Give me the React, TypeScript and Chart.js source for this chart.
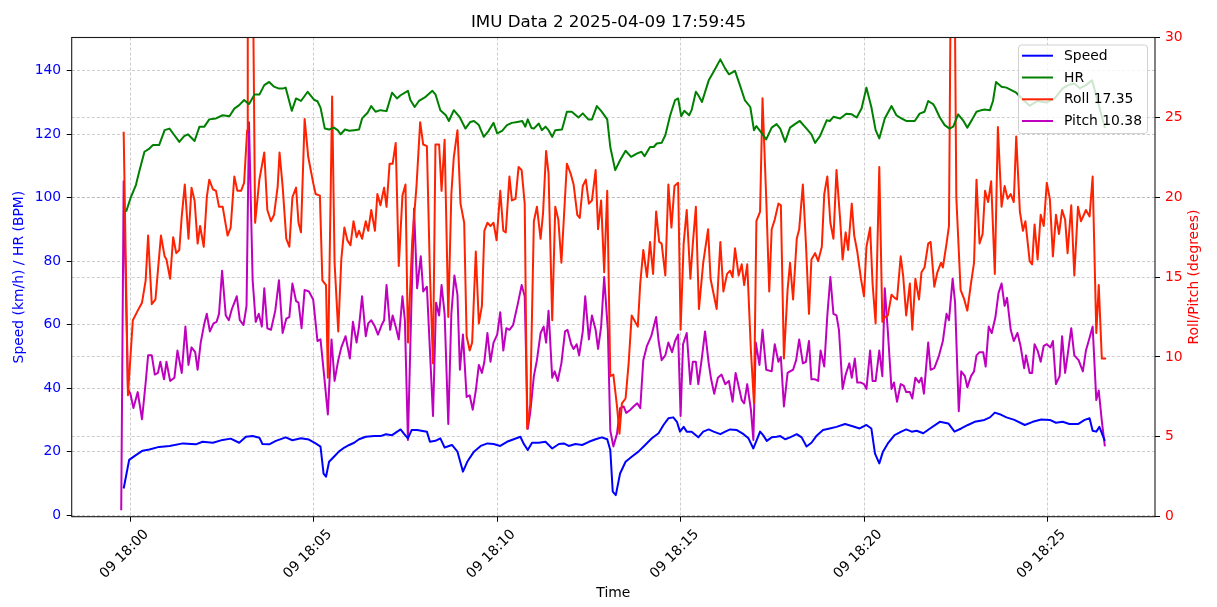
import React, { useEffect, useRef } from "react";
import { Chart, registerables } from "chart.js";

Chart.register(...registerables);

// ---- Data (time in seconds relative to 18:00:00 on 2025-04-09) ----
const TITLE = "IMU Data 2 2025-04-09 17:59:45";

const SPEED_T = [-11, -2, 9, 20, 31, 47, 64, 86, 107, 118, 135, 151, 164, 178, 189, 200, 211, 216, 227, 238, 254, 265, 279, 292, 303, 311, 316, 320, 325, 333, 341, 350, 358, 366, 374, 385, 399, 409, 418, 428, 442, 448, 454, 460, 469, 485, 490, 499, 507, 514, 526, 535, 544, 551, 562, 573, 584, 594, 605, 616, 627, 638, 643, 650, 657, 668, 679, 690, 701, 709, 717, 728, 739, 750, 761, 771, 780, 785, 789, 794, 801, 810, 820, 831, 842, 853, 864, 872, 880, 888, 894, 899, 905, 910, 918, 929, 937, 946, 954, 965, 973, 981, 992, 1003, 1011, 1019, 1024, 1030, 1035, 1041, 1049, 1057, 1063, 1071, 1079, 1090, 1098, 1106, 1114, 1122, 1133, 1144, 1155, 1169, 1180, 1193, 1204, 1212, 1218, 1225, 1231, 1239, 1250, 1261, 1269, 1278, 1286, 1297, 1308, 1324, 1338, 1348, 1359, 1370, 1381, 1397, 1406, 1414, 1422, 1433, 1446, 1463, 1476, 1490, 1504, 1514, 1525, 1536, 1550, 1561, 1569, 1574, 1580, 1585, 1594];
const SPEED_V = [8.4, 17.4, 18.9, 20.3, 20.7, 21.5, 21.8, 22.6, 22.3, 23.1, 22.8, 23.7, 24.1, 22.8, 24.7, 24.9, 24.4, 22.4, 22.3, 23.4, 24.5, 23.6, 24.2, 23.8, 22.6, 21.6, 13.1, 12.1, 16.8, 18.4, 20.0, 21.3, 22.1, 22.8, 23.9, 24.7, 24.9, 24.9, 25.5, 25.2, 27.0, 25.5, 24.2, 26.8, 26.8, 26.3, 23.1, 23.4, 24.2, 21.3, 22.1, 20.0, 13.7, 16.8, 20.0, 21.8, 22.6, 22.4, 21.8, 23.1, 23.9, 24.7, 22.6, 20.5, 22.8, 22.8, 23.1, 21.0, 22.4, 22.6, 21.8, 22.4, 22.1, 23.1, 23.9, 24.5, 23.9, 20.5, 7.4, 6.3, 13.1, 16.8, 18.4, 20.0, 22.1, 24.2, 25.8, 28.4, 30.5, 30.8, 29.4, 26.3, 27.8, 26.3, 26.3, 24.5, 26.3, 27.0, 26.3, 25.5, 26.3, 27.0, 26.8, 25.5, 24.2, 21.0, 23.4, 26.3, 25.2, 23.4, 24.5, 24.7, 24.9, 23.9, 24.5, 25.5, 24.5, 21.6, 22.8, 24.9, 26.8, 27.3, 27.8, 28.7, 28.1, 27.3, 28.4, 27.3, 19.4, 16.3, 20.0, 22.6, 25.2, 26.3, 27.0, 26.3, 26.6, 25.8, 27.3, 29.4, 28.9, 26.3, 27.3, 28.4, 29.4, 30.0, 30.8, 32.3, 31.8, 30.8, 30.0, 28.4, 29.4, 30.1, 30.0, 29.1, 29.4, 28.7, 28.7, 30.0, 30.5, 26.6, 26.3, 27.8, 23.4];

const HR_T = [-7, 1, 9, 15, 23, 31, 37, 47, 56, 64, 72, 80, 88, 94, 105, 113, 121, 129, 140, 151, 162, 170, 178, 186, 194, 203, 211, 219, 227, 235, 243, 249, 254, 264, 271, 279, 290, 301, 306, 311, 318, 325, 333, 339, 344, 351, 358, 366, 374, 379, 388, 394, 401, 409, 419, 428, 436, 442, 454, 458, 465, 472, 483, 494, 499, 507, 516, 521, 529, 539, 548, 556, 562, 570, 578, 586, 594, 600, 608, 616, 624, 633, 641, 646, 650, 656, 660, 668, 673, 679, 684, 690, 695, 706, 714, 722, 733, 740, 749, 755, 763, 770, 780, 785, 793, 801, 810, 819, 829, 836, 841, 850, 856, 861, 869, 875, 883, 891, 896, 901, 906, 914, 918, 925, 929, 935, 946, 954, 965, 973, 979, 989, 997, 1005, 1014, 1020, 1024, 1033, 1040, 1049, 1057, 1063, 1071, 1079, 1087, 1095, 1106, 1114, 1120, 1128, 1139, 1144, 1150, 1161, 1171, 1180, 1188, 1196, 1204, 1212, 1219, 1225, 1234, 1245, 1253, 1261, 1269, 1283, 1291, 1299, 1305, 1313, 1316, 1324, 1332, 1340, 1346, 1354, 1362, 1369, 1377, 1384, 1392, 1397, 1406, 1411, 1416, 1425, 1433, 1441, 1449, 1457, 1471, 1484, 1498, 1512, 1525, 1534, 1544, 1553, 1563, 1573, 1583, 1594];
const HR_V = [95.6, 100.3, 104, 108.7, 114.5, 115.5, 116.6, 116.6, 121.3, 121.8, 119.7, 117.6, 119.4, 120, 117.9, 122.4, 122.4, 124.7, 125, 126, 125.7, 128.1, 129.2, 130.8, 129.5, 132.5, 132.5, 135.5, 136.5, 135, 134.4, 134.4, 134.7, 127.4, 131.3, 130.5, 133.4, 130.8, 130.4, 128.4, 121.8, 121.5, 122.1, 121.3, 120.0, 121.5, 121.1, 121.3, 121.5, 125, 126.8, 128.9, 127.1, 127.6, 127.3, 133.1, 131.3, 132.3, 133.7, 130.8, 128.6, 130.5, 131.8, 133.7, 132.6, 127.6, 126, 124.2, 127.6, 125.3, 121.8, 123.9, 124.2, 122.9, 119.2, 121.1, 123.6, 120.3, 121.1, 122.9, 123.6, 123.9, 124.2, 122.4, 124.7, 122.0, 121.8, 123.4, 121.3, 122.4, 121.3, 119.2, 121.3, 121.5, 127.1, 127.1, 125.3, 126.6, 124.7, 124.7, 128.9, 127.4, 124.7, 116.0, 108.7, 111.8, 114.8, 112.9, 114.0, 114.5, 113.1, 116.0, 116.0, 117.1, 117.3, 119.7, 126.0, 130.8, 131.3, 125.7, 127.4, 126.0, 127.6, 133.4, 132.3, 130.2, 137.0, 139.7, 143.6, 140.7, 138.9, 140.0, 135.5, 130.8, 128.6, 121.3, 122.6, 120.3, 118.4, 122.1, 123.2, 121.8, 117.6, 122.1, 123.2, 124.2, 121.8, 120.0, 117.3, 119.4, 124.4, 124.2, 125.5, 125, 126.5, 126.3, 125.3, 128.1, 134.7, 128.6, 121.3, 118.7, 125, 128.9, 126.0, 125, 124.2, 124.2, 126.5, 127.1, 130.5, 129.5, 128.6, 125.3, 122.9, 121.8, 122.4, 126.3, 124.4, 122.1, 124.7, 127.1, 127.6, 127.8, 127.6, 130.5, 136.5, 135.0, 134.7, 133.9, 133.1, 131.5, 129, 130.5, 130, 131.3, 134.5, 135.5, 136, 134.5, 135.5, 137, 130, 122];

const ROLL_T = [-11, -4, 4, 12, 19, 25, 29, 35, 41, 45, 50, 56, 59, 65, 70, 75, 80, 84, 89, 95, 100, 105, 110, 114, 120, 125, 129, 135, 140, 145, 151, 159, 164, 170, 175, 181, 186, 191, 192, 199, 204, 211, 219, 224, 230, 235, 241, 244, 249, 255, 260, 265, 271, 275, 279, 285, 291, 299, 303, 310, 314, 320, 323, 330, 334, 340, 345, 350, 355, 360, 365, 370, 374, 379, 385, 389, 394, 400, 404, 409, 415, 419, 424, 429, 434, 439, 445, 450, 454, 461, 468, 474, 479, 485, 490, 495, 499, 505, 509, 514, 520, 525, 529, 535, 540, 546, 550, 555, 559, 565, 570, 575, 579, 584, 589, 594, 599, 605, 610, 614, 620, 624, 630, 635, 640, 645, 649, 654, 660, 665, 671, 675, 680, 684, 690, 695, 700, 705, 714, 720, 725, 731, 735, 740, 745, 750, 755, 761, 765, 770, 775, 780, 785, 790, 796, 800, 804, 810, 815, 820, 830, 834, 839, 845, 850, 855, 860, 865, 869, 875, 880, 885, 890, 896, 900, 905, 910, 916, 920, 925, 930, 937, 945, 949, 959, 965, 970, 976, 981, 985, 989, 995, 1000, 1004, 1009, 1015, 1020, 1024, 1030, 1034, 1040, 1045, 1049, 1054, 1060, 1064, 1069, 1075, 1079, 1084, 1090, 1094, 1100, 1105, 1110, 1114, 1120, 1125, 1131, 1135, 1140, 1145, 1150, 1155, 1161, 1165, 1170, 1174, 1180, 1184, 1189, 1195, 1200, 1204, 1210, 1214, 1219, 1225, 1230, 1234, 1239, 1245, 1250, 1254, 1260, 1264, 1269, 1275, 1279, 1284, 1290, 1294, 1299, 1305, 1309, 1315, 1320, 1326, 1329, 1335, 1339, 1345, 1351, 1358, 1364, 1369, 1375, 1380, 1384, 1389, 1394, 1398, 1403, 1408, 1414, 1419, 1425, 1430, 1435, 1440, 1445, 1449, 1455, 1460, 1464, 1471, 1475, 1479, 1484, 1489, 1494, 1499, 1504, 1509, 1514, 1519, 1524, 1529, 1533, 1539, 1544, 1550, 1555, 1563, 1569, 1574, 1580, 1584, 1589, 1596];
const ROLL_V = [24.1, 7.6, 12.3, 12.9, 13.4, 14.8, 17.6, 13.3, 13.6, 15.4, 17.6, 16.3, 16.1, 14.9, 17.5, 16.5, 16.7, 18.8, 20.8, 17.4, 20.6, 19.8, 17.1, 18.2, 16.9, 20.0, 21.1, 20.5, 20.4, 19.4, 19.4, 17.6, 18.1, 21.3, 20.4, 20.4, 20.9, 24.2, 45, 40, 18.4, 21.1, 22.8, 19.2, 18.5, 18.9, 20.7, 22.8, 20.7, 17.4, 16.9, 20.0, 20.6, 18.4, 17.8, 24.9, 22.5, 20.9, 20.2, 20.1, 14.8, 14.5, 8.7, 26.3, 15.9, 11.6, 16.1, 18.1, 17.3, 17.0, 18.5, 17.5, 17.9, 17.4, 18.5, 17.9, 19.2, 17.9, 20.2, 19.5, 20.6, 19.4, 22.1, 22.1, 23.4, 15.7, 20.1, 20.8, 10.9, 17.3, 20.7, 24.7, 23.3, 23.2, 15.2, 9.6, 23.3, 23.3, 20.4, 23.6, 12.5, 20.2, 22.5, 24.2, 19.6, 18.4, 11.3, 10.4, 10.9, 16.6, 12.1, 13.2, 17.9, 18.4, 18.2, 18.4, 17.3, 20.4, 17.9, 17.8, 21.3, 19.8, 19.9, 21.9, 21.7, 19.6, 5.5, 7.0, 18.5, 19.4, 17.4, 19.0, 22.9, 21.5, 12.3, 19.4, 18.6, 15.9, 22.1, 21.5, 20.8, 18.9, 18.7, 20.7, 21.1, 19.6, 19.8, 21.7, 18.0, 19.8, 15.3, 20.4, 8.8, 8.9, 6.9, 5.2, 7.1, 7.4, 9.6, 12.6, 11.9, 14.6, 16.7, 15.0, 17.2, 15.2, 19.1, 17.2, 17.1, 15.1, 20.8, 18.1, 20.7, 20.9, 11.7, 17.1, 19.2, 14.9, 17.1, 19.4, 13.0, 15.9, 18.0, 14.9, 13.0, 17.2, 14.1, 15.2, 15.4, 15.0, 16.8, 15.1, 15.8, 14.5, 15.8, 10.4, 7.1, 18.5, 19.1, 26.2, 20.0, 14.1, 18.0, 18.6, 19.6, 19.5, 9.9, 14.2, 15.9, 13.6, 17.4, 18.0, 20.8, 17.1, 12.7, 16.1, 16.5, 16.0, 16.9, 20.2, 21.3, 18.4, 17.4, 21.7, 18.6, 16.1, 17.8, 16.7, 19.6, 17.6, 16.6, 14.9, 13.8, 16.9, 18.1, 14.6, 12.1, 21.9, 12.2, 12.5, 12.6, 13.9, 13.7, 13.6, 16.3, 15.1, 12.6, 14.6, 11.7, 14.9, 13.6, 15.3, 15.6, 17.1, 17.2, 14.4, 15.3, 15.9, 15.6, 17.1, 18.2, 50, 20.0, 14.2, 13.6, 12.9, 14.6, 15.9, 21.1, 17.1, 17.7, 20.4, 19.7, 21.0, 15.2, 24.4, 19.4, 20.7, 19.9, 20.2, 19.7, 23.8, 19.1, 17.9, 18.5, 16.0, 15.8, 18.3, 16.1, 18.9, 18.2, 20.9, 19.9, 16.3, 18.9, 17.7, 19.2, 18.6, 16.5, 19.5, 15.1, 19.4, 18.5, 19.2, 18.8, 21.3, 11.5, 14.5, 9.9, 9.9];

const PITCH_T = [-15, -11, -4, 0, 5, 12, 19, 25, 29, 35, 40, 45, 49, 55, 59, 65, 72, 77, 84, 90, 95, 100, 106, 110, 115, 121, 125, 130, 136, 141, 145, 150, 156, 161, 166, 174, 179, 185, 190, 194, 200, 205, 210, 215, 219, 224, 230, 237, 243, 249, 255, 260, 265, 271, 275, 280, 285, 292, 299, 306, 311, 317, 323, 329, 334, 340, 345, 352, 359, 364, 370, 374, 379, 385, 389, 394, 400, 405, 411, 415, 419, 425, 429, 434, 439, 445, 449, 454, 460, 464, 469, 475, 479, 485, 490, 495, 500, 505, 509, 514, 520, 525, 530, 535, 539, 544, 550, 555, 560, 565, 570, 575, 579, 584, 589, 594, 600, 605, 610, 615, 620, 626, 633, 640, 645, 650, 654, 660, 665, 671, 676, 680, 684, 690, 694, 699, 705, 711, 715, 721, 725, 730, 734, 740, 744, 750, 755, 761, 765, 770, 775, 781, 785, 790, 796, 801, 807, 811, 818, 823, 829, 834, 839, 845, 852, 860, 864, 869, 875, 880, 886, 891, 896, 900, 904, 910, 916, 920, 925, 929, 935, 940, 946, 950, 955, 961, 967, 973, 979, 985, 990, 996, 1000, 1004, 1009, 1015, 1019, 1023, 1029, 1034, 1040, 1049, 1054, 1060, 1064, 1069, 1075, 1079, 1084, 1089, 1094, 1100, 1105, 1110, 1114, 1120, 1125, 1129, 1135, 1140, 1145, 1150, 1155, 1159, 1165, 1170, 1176, 1180, 1185, 1189, 1195, 1200, 1204, 1210, 1214, 1219, 1225, 1230, 1234, 1239, 1245, 1249, 1254, 1260, 1265, 1269, 1275, 1279, 1284, 1290, 1294, 1298, 1305, 1309, 1315, 1322, 1329, 1335, 1339, 1345, 1349, 1355, 1359, 1365, 1369, 1375, 1380, 1384, 1389, 1395, 1399, 1404, 1409, 1415, 1420, 1425, 1430, 1434, 1440, 1445, 1451, 1456, 1462, 1465, 1471, 1475, 1479, 1484, 1489, 1494, 1499, 1505, 1509, 1514, 1520, 1524, 1529, 1533, 1539, 1544, 1551, 1558, 1563, 1569, 1574, 1580, 1584, 1589, 1594];
const PITCH_V = [0.4, 21.0, 8.0, 7.7, 6.8, 7.8, 6.1, 8.4, 10.1, 10.1, 8.9, 9.0, 9.7, 8.6, 9.7, 8.5, 8.7, 10.4, 9.0, 11.9, 9.5, 10.6, 10.3, 9.2, 10.9, 12.1, 12.7, 11.6, 12.1, 12.2, 12.7, 15.4, 12.6, 12.3, 13.0, 13.8, 12.3, 12.0, 13.2, 24.7, 14.8, 12.2, 12.7, 11.9, 14.3, 11.8, 11.7, 12.9, 14.8, 11.5, 12.4, 12.5, 14.6, 13.5, 13.4, 11.8, 14.2, 14.1, 13.6, 11.0, 11.1, 8.8, 6.4, 11.1, 8.5, 9.8, 10.6, 11.3, 9.9, 12.2, 10.9, 11.9, 13.8, 11.3, 12.1, 12.3, 11.9, 11.4, 12.0, 12.3, 14.5, 11.7, 12.6, 11.9, 11.1, 13.8, 12.3, 4.8, 13.8, 19.3, 14.3, 16.3, 14.1, 14.4, 10.4, 6.3, 13.4, 12.6, 14.5, 12.7, 5.8, 12.7, 15.1, 13.9, 9.2, 11.4, 7.5, 7.6, 6.7, 7.9, 9.5, 9.0, 9.7, 11.5, 9.7, 10.9, 11.4, 12.8, 10.4, 11.8, 11.7, 12.0, 13.2, 14.5, 13.8, 5.5, 6.5, 8.8, 9.8, 11.5, 11.9, 10.9, 12.9, 8.7, 9.1, 8.5, 9.6, 11.6, 11.7, 10.8, 10.5, 10.8, 10.1, 11.6, 13.8, 11.1, 12.6, 11.7, 10.5, 11.9, 15.0, 11.7, 5.4, 4.4, 5.2, 6.8, 6.9, 6.5, 6.7, 6.9, 7.1, 6.8, 9.8, 10.7, 11.3, 12.5, 11.0, 9.8, 10.1, 10.9, 10.3, 11.0, 11.4, 6.3, 10.8, 11.5, 8.3, 9.7, 9.7, 8.3, 10.0, 11.6, 9.6, 8.6, 7.7, 8.7, 8.9, 8.3, 8.5, 7.2, 9.0, 8.0, 7.3, 7.1, 8.3, 6.7, 4.8, 10.9, 9.5, 11.7, 9.2, 9.1, 10.8, 9.7, 10.0, 6.9, 9.0, 9.1, 9.2, 9.8, 11.1, 9.6, 9.7, 11.0, 8.6, 8.6, 8.5, 10.4, 9.4, 12.6, 15.0, 12.7, 12.6, 11.7, 8.0, 8.9, 9.6, 8.7, 9.9, 8.4, 8.4, 8.3, 8.0, 10.4, 8.5, 8.5, 10.4, 8.8, 14.3, 11.6, 8.0, 8.4, 7.2, 8.3, 8.2, 7.8, 7.8, 7.4, 8.7, 8.4, 8.7, 7.7, 10.9, 9.2, 9.3, 10.0, 11.0, 12.7, 12.3, 14.9, 13.4, 6.6, 9.1, 8.8, 8.1, 8.8, 9.1, 10.1, 10.3, 10.3, 9.4, 11.9, 11.5, 12.5, 14.0, 14.6, 13.2, 13.7, 11.7, 11.0, 11.5, 10.7, 9.3, 10.1, 9.0, 9.0, 10.8, 10.4, 9.7, 10.7, 10.8, 10.6, 11.0, 8.3, 8.8, 11.3, 9.0, 10.1, 11.8, 10.1, 9.8, 9.1, 10.4, 11.2, 11.9, 7.3, 7.9, 6.0, 4.4];

const SERIES_LABELS = ["Speed", "HR", "Roll 17.35", "Pitch 10.38"];
const SERIES_COLORS = ["#0000ff", "#008000", "#ff2200", "#bf00bf"];

const X_TICKS = [0, 300, 600, 900, 1200, 1500];
const X_TICK_LABELS = ["09 18:00", "09 18:05", "09 18:10", "09 18:15", "09 18:20", "09 18:25"];
const LEFT_TICKS = [0, 20, 40, 60, 80, 100, 120, 140];
const RIGHT_TICKS = [0, 5, 10, 15, 20, 25, 30];

const X_MIN = -96;
const X_MAX = 1676;
const LEFT_MIN = -0.5;
const LEFT_MAX = 150.5;
const RIGHT_MIN = 0;
const RIGHT_MAX = 30;

const FONT = "DejaVu Sans";
const FS = 13.9;

const W = 1217;
const H = 607;

function pairs(ts: number[], vs: number[]) {
  return ts.map((t, i) => ({ x: t, y: vs[i] }));
}

const framePlugin = {
  id: "frameAndExtras",
  afterDatasetsDraw(chart: any) {
    const { ctx, chartArea: a } = chart;
    ctx.save();
    // frame
    ctx.strokeStyle = "#1a1a1a";
    ctx.lineWidth = 1.1;
    ctx.setLineDash([]);
    ctx.strokeRect(a.left, a.top, a.right - a.left, a.bottom - a.top);

    // legend box
    const lx = 1018.5, ly = 45, lw = 129, lh = 88.5, r = 3;
    ctx.beginPath();
    ctx.moveTo(lx + r, ly);
    ctx.lineTo(lx + lw - r, ly);
    ctx.quadraticCurveTo(lx + lw, ly, lx + lw, ly + r);
    ctx.lineTo(lx + lw, ly + lh - r);
    ctx.quadraticCurveTo(lx + lw, ly + lh, lx + lw - r, ly + lh);
    ctx.lineTo(lx + r, ly + lh);
    ctx.quadraticCurveTo(lx, ly + lh, lx, ly + lh - r);
    ctx.lineTo(lx, ly + r);
    ctx.quadraticCurveTo(lx, ly, lx + r, ly);
    ctx.closePath();
    ctx.fillStyle = "rgba(255,255,255,0.8)";
    ctx.fill();
    ctx.strokeStyle = "rgba(204,204,204,0.9)";
    ctx.lineWidth = 1;
    ctx.stroke();

    const rowY = [55.7, 77.5, 99.3, 121.0];
    chart.data.datasets.forEach((ds: any, i: number) => {
      const y = rowY[i];
      ctx.beginPath();
      ctx.strokeStyle = ds.borderColor;
      ctx.lineWidth = 2;
      ctx.moveTo(1022, y);
      ctx.lineTo(1053, y);
      ctx.stroke();
      ctx.fillStyle = "#000";
      ctx.font = `${FS}px '${FONT}'`;
      ctx.textAlign = "left";
      ctx.textBaseline = "middle";
      ctx.fillText(ds.label, 1064, y + 0.5);
    });

    // right axis title (bottom-to-top like matplotlib)
    ctx.save();
    ctx.translate(1194, (a.top + a.bottom) / 2);
    ctx.rotate(-Math.PI / 2);
    ctx.fillStyle = "red";
    ctx.font = `${FS}px '${FONT}'`;
    ctx.textAlign = "center";
    ctx.textBaseline = "middle";
    ctx.fillText("Roll/Pitch (degrees)", 0, 0);
    ctx.restore();

    ctx.restore();
  },
};

const gridBase = {
  color: "rgba(176,176,176,0.8)",
  lineWidth: 0.8,
  tickColor: "#000",
  tickLength: 5,
  tickWidth: 1,
  tickBorderDash: [],
};

const borderBase = { display: false, dash: [3, 2] };

export default function App() {
  const ref = useRef<HTMLCanvasElement | null>(null);

  useEffect(() => {
    if (!ref.current) return;
    Chart.defaults.font.family = FONT;
    const chart = new Chart(ref.current, {
      type: "line",
      data: {
        datasets: [
          { label: SERIES_LABELS[0], data: pairs(SPEED_T, SPEED_V), borderColor: SERIES_COLORS[0], yAxisID: "y" },
          { label: SERIES_LABELS[1], data: pairs(HR_T, HR_V), borderColor: SERIES_COLORS[1], yAxisID: "y" },
          { label: SERIES_LABELS[2], data: pairs(ROLL_T, ROLL_V), borderColor: SERIES_COLORS[2], yAxisID: "y2" },
          { label: SERIES_LABELS[3], data: pairs(PITCH_T, PITCH_V), borderColor: SERIES_COLORS[3], yAxisID: "y2" },
        ].map((d) => ({
          ...d,
          backgroundColor: d.borderColor,
          borderWidth: 2,
          pointRadius: 0,
          tension: 0,
          fill: false,
          borderJoinStyle: "round" as const,
        })),
      },
      options: {
        responsive: false,
        animation: false,
        devicePixelRatio: 1,
        layout: { padding: 0 },
        plugins: {
          legend: { display: false },
          tooltip: { enabled: false },
          title: {
            display: true,
            text: TITLE,
            color: "#000",
            font: { family: FONT, size: 16.7, weight: "normal" },
            padding: { top: 13, bottom: 4.46 },
          },
        },
        scales: {
          x: {
            type: "linear",
            min: X_MIN,
            max: X_MAX,
            afterFit: (s: any) => {
              s.height = H - 516.7;
            },
            afterBuildTicks: (s: any) => {
              s.ticks = X_TICKS.map((v) => ({ value: v }));
            },
            ticks: {
              autoSkip: false,
              minRotation: 45,
              maxRotation: 45,
              labelOffset: 16,
              padding: 4.7,
              color: "#000",
              font: { family: FONT, size: FS },
              callback: (v: any) => {
                const idx = X_TICKS.indexOf(Number(v));
                return idx >= 0 ? X_TICK_LABELS[idx] : "";
              },
            },
            grid: { ...gridBase },
            border: { ...borderBase },
            title: {
              display: true,
              text: "Time",
              color: "#000",
              font: { family: FONT, size: FS },
              padding: { top: 0, bottom: 5.7 },
            },
          },
          y: {
            type: "linear",
            position: "left",
            min: LEFT_MIN,
            max: LEFT_MAX,
            afterFit: (s: any) => {
              s.width = 71.7;
            },
            afterBuildTicks: (s: any) => {
              s.ticks = LEFT_TICKS.map((v) => ({ value: v }));
            },
            ticks: {
              color: "blue",
              padding: 5.5,
              font: { family: FONT, size: FS },
            },
            grid: { ...gridBase },
            border: { ...borderBase },
            title: {
              display: true,
              text: "Speed (km/h) / HR (BPM)",
              color: "blue",
              font: { family: FONT, size: FS },
              padding: { top: 10.7, bottom: 0 },
            },
          },
          y2: {
            type: "linear",
            position: "right",
            min: RIGHT_MIN,
            max: RIGHT_MAX,
            afterFit: (s: any) => {
              s.width = W - 1155;
            },
            afterBuildTicks: (s: any) => {
              s.ticks = RIGHT_TICKS.map((v) => ({ value: v }));
            },
            ticks: {
              color: "red",
              padding: 5,
              font: { family: FONT, size: FS },
            },
            grid: { ...gridBase },
            border: { ...borderBase },
          },
        },
      },
      plugins: [framePlugin],
    });
    return () => chart.destroy();
  }, []);

  return (
    <div style={{ position: "fixed", left: 0, top: 0, width: W, height: H, background: "#fff" }}>
      <canvas ref={ref} width={W} height={H} style={{ display: "block", width: W, height: H }} />
    </div>
  );
}
